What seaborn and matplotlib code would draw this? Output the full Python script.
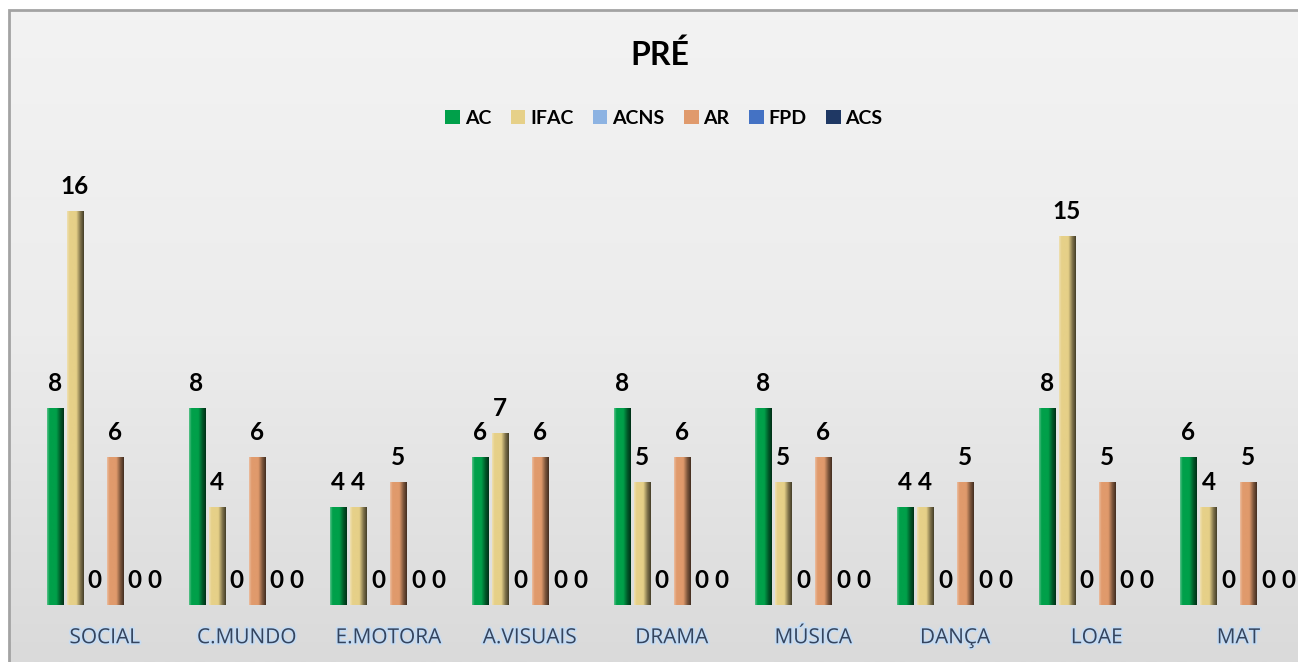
import numpy as np
import pandas as pd
import matplotlib
matplotlib.use("Agg")
import matplotlib.pyplot as plt
import seaborn as sns
from matplotlib.colors import LinearSegmentedColormap, to_rgb
from matplotlib.patches import Rectangle, Patch
import matplotlib.patheffects as pe

# ---------------- data ----------------
categories = ["SOCIAL", "C.MUNDO", "E.MOTORA", "A.VISUAIS", "DRAMA",
              "MÚSICA", "DANÇA", "LOAE", "MAT"]
series_names = ["AC", "IFAC", "ACNS", "AR", "FPD", "ACS"]
ac_vals = [8, 8, 4, 6, 8, 8, 4, 8, 6]
ifac_vals = [16, 4, 4, 7, 5, 5, 4, 15, 4]
acns_vals = [0, 0, 0, 0, 0, 0, 0, 0, 0]
ar_vals = [6, 6, 5, 6, 6, 6, 5, 5, 5]
fpd_vals = [0, 0, 0, 0, 0, 0, 0, 0, 0]
acs_vals = [0, 0, 0, 0, 0, 0, 0, 0, 0]
title_text = "PRÉ"

series_colors = {
    "AC": "#00a04a",
    "IFAC": "#e6d088",
    "ACNS": "#8db3e2",
    "AR": "#e09a6c",
    "FPD": "#4472c4",
    "ACS": "#1f3864",
}

all_vals = [ac_vals, ifac_vals, acns_vals, ar_vals, fpd_vals, acs_vals]
rows = []
for s, vals in zip(series_names, all_vals):
    for c, v in zip(categories, vals):
        rows.append({"cat": c, "series": s, "val": v})
df = pd.DataFrame(rows)

# ---------------- figure ----------------
W, H = 1298, 662
plt.rcParams["font.family"] = ["Lato", "DejaVu Sans"]
fig = plt.figure(figsize=(W / 100, H / 100), dpi=100)
fig.patch.set_facecolor("white")

# background gradient inside the chart frame
bg = fig.add_axes([0, 0, 1, 1], zorder=-10)
bg.set_xlim(0, 1)
bg.set_ylim(0, 1)
bg.axis("off")
grad = np.linspace(0, 1, 256).reshape(-1, 1)
bg_cmap = LinearSegmentedColormap.from_list("bg", ["#f3f3f3", "#ececec", "#dadada"])
bg.imshow(grad, aspect="auto", cmap=bg_cmap,
          extent=[9 / W, 1.0, 0, 1 - 10 / H], origin="upper")
bg.add_patch(Rectangle((9 / W, -0.05), 1.2, 1 - 10 / H + 0.05,
                       fill=False, ec="#a3a3a3", lw=2.0))

# main axes
base_px, top_px, left_px = 605, 162, 34
ax = fig.add_axes([left_px / W, (H - base_px) / H, (W - left_px) / W,
                   (base_px - top_px) / H])
ax.patch.set_alpha(0)

sns.barplot(data=df, x="cat", y="val", hue="series", order=categories,
            hue_order=series_names, palette=series_colors, width=0.847,
            gap=0.2, saturation=1, legend=False, ax=ax, edgecolor="none")

cat_px = 141.7
ax.set_xlim(-0.5, -0.5 + (W - left_px) / cat_px)
ax.set_ylim(0, 18)

# bevel-like shading on each bar
def shade_cmap(col):
    r = np.array(to_rgb(col))
    light = r + (1 - r) * 0.35
    dark = r * 0.55
    darkest = r * 0.3
    return LinearSegmentedColormap.from_list(
        "b", [(0, light), (0.15, r), (0.55, r), (0.8, dark), (1.0, darkest)])

hgrad = np.linspace(0, 1, 64).reshape(1, -1)
for s, cont in zip(series_names, ax.containers):
    cm = shade_cmap(series_colors[s])
    for p in cont.patches:
        h = p.get_height()
        if h <= 0:
            continue
        x0 = p.get_x()
        w = p.get_width()
        im = ax.imshow(hgrad, aspect="auto", cmap=cm, extent=[x0, x0 + w, 0, h],
                       zorder=p.get_zorder() + 0.1)
        im.set_clip_path(p)

ax.set_xlim(-0.5, -0.5 + (W - left_px) / cat_px)
ax.set_ylim(0, 18)

# data labels
for s, cont in zip(series_names, ax.containers):
    for p in cont.patches:
        h = p.get_height()
        ax.annotate(f"{int(round(h))}", (p.get_x() + p.get_width() / 2, h),
                    xytext=(0, 17), textcoords="offset pixels",
                    ha="center", va="baseline", fontsize=17.5,
                    fontweight="bold", color="black", annotation_clip=False)

# axes styling
for sp in ax.spines.values():
    sp.set_visible(False)
ax.set_yticks([])
ax.set_xlabel("")
ax.set_ylabel("")
ax.tick_params(axis="x", length=0, pad=16)
for lab in ax.get_xticklabels():
    lab.set_fontsize(15)
    lab.set_family(["Open Sans", "DejaVu Sans"])
    lab.set_color("#34445e")
    lab.set_path_effects([pe.withStroke(linewidth=2.5, foreground="#c6dcf3")])

# title
fig.text(660 / W, 1 - 55 / H, title_text, ha="center", va="center",
         fontsize=23, fontweight="bold", color="black")

# legend
handles = [Patch(facecolor=series_colors[s], edgecolor="none") for s in series_names]
leg = fig.legend(handles, series_names, loc="center", bbox_to_anchor=(664 / W, 1 - 118 / H),
                 ncol=6, frameon=False, handlelength=0.75, handleheight=0.75,
                 handletextpad=0.25, columnspacing=1.0,
                 prop={"size": 14, "weight": "bold"})

fig.savefig("out.png", dpi=100)
